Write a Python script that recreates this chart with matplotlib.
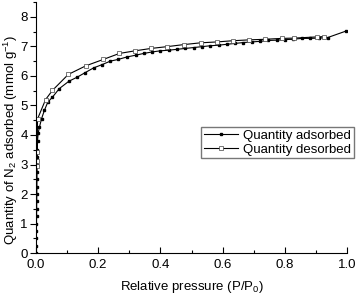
import numpy as np
import matplotlib
matplotlib.use("Agg")
import matplotlib.pyplot as plt
from matplotlib.ticker import MultipleLocator

plt.rcParams['font.family'] = ['Liberation Sans', 'DejaVu Sans']
plt.rcParams['mathtext.fontset'] = 'custom'
plt.rcParams['mathtext.rm'] = 'Liberation Sans'
plt.rcParams['mathtext.it'] = 'Liberation Sans'

# adsorption branch (P/P0, mmol/g)
ads_p = [0.0005, 0.001, 0.0012, 0.0015, 0.0017, 0.002, 0.0022, 0.0025, 0.0027, 0.003,
         0.0032, 0.0035, 0.0037, 0.004, 0.0045, 0.005, 0.007, 0.011, 0.018, 0.027, 0.038,
         0.053, 0.075, 0.106, 0.133, 0.158, 0.185, 0.212, 0.239, 0.265, 0.292, 0.32,
         0.346, 0.373, 0.40, 0.427, 0.453, 0.48, 0.507, 0.533, 0.56, 0.587, 0.613, 0.64,
         0.667, 0.693, 0.72, 0.747, 0.774, 0.80, 0.827, 0.854, 0.88, 0.91, 0.938, 0.997]
ads_q = [0.0, 0.25, 0.5, 0.75, 1.0, 1.25, 1.5, 1.75, 2.0, 2.25,
         2.5, 2.75, 3.0, 3.25, 3.5, 3.8, 4.05, 4.26, 4.55, 4.83, 5.11,
         5.28, 5.57, 5.82, 5.96, 6.11, 6.27, 6.38, 6.5, 6.56, 6.64, 6.70,
         6.76, 6.81, 6.85, 6.87, 6.90, 6.93, 6.96, 6.99, 7.02, 7.04, 7.07, 7.10,
         7.13, 7.15, 7.17, 7.20, 7.21, 7.23, 7.24, 7.27, 7.27, 7.28, 7.30, 7.52]

# desorption branch
des_p = [0.927, 0.903, 0.83, 0.79, 0.737, 0.685, 0.632, 0.581, 0.529, 0.475,
         0.421, 0.37, 0.319, 0.268, 0.217, 0.16, 0.104, 0.053, 0.031, 0.005,
         0.004, 0.004, 0.004]
des_q = [7.33, 7.32, 7.28, 7.27, 7.24, 7.22, 7.19, 7.15, 7.12, 7.06,
         6.99, 6.93, 6.85, 6.76, 6.56, 6.34, 6.05, 5.51, 5.2, 4.54,
         3.41, 3.13, 2.94]

fs = 9.5

fig = plt.figure(figsize=(3.56, 2.95), dpi=100)
ax = fig.add_axes([0.101, 0.142, 0.874, 0.851])

ax.plot(ads_p, ads_q, '-s', color='black', lw=0.8, ms=2.0, mfc='black', mec='black',
        label='Quantity adsorbed')
ax.plot(des_p, des_q, '-s', color='black', lw=0.8, ms=2.2, mfc='white', mec='#444444',
        mew=0.5, label='Quantity desorbed')

ax.set_xlim(0, 1.0)
ax.set_ylim(0, 8.5)
ax.xaxis.set_major_locator(MultipleLocator(0.2))
ax.xaxis.set_minor_locator(MultipleLocator(0.1))
ax.yaxis.set_major_locator(MultipleLocator(1))
ax.yaxis.set_minor_locator(MultipleLocator(0.5))
ax.xaxis.set_major_formatter(plt.FuncFormatter(lambda v, p: f"{v:.1f}"))

ax.spines['top'].set_visible(False)
ax.spines['right'].set_visible(False)
ax.spines['left'].set_linewidth(0.8)
ax.spines['bottom'].set_linewidth(0.8)
ax.tick_params(axis='x', which='major', direction='in', length=4, width=0.8, labelsize=fs, pad=4)
ax.tick_params(axis='x', which='minor', direction='in', length=2.5, width=0.8)
ax.tick_params(axis='y', which='major', direction='out', length=4, width=0.8, labelsize=fs, pad=2)
ax.tick_params(axis='y', which='minor', direction='out', length=2.5, width=0.8)

ax.set_xlabel("Relative pressure (P/P$_0$)", fontsize=fs, labelpad=6)
ax.set_ylabel("Quantity of N$_2$ adsorbed (mmol g$^{-1}$)", fontsize=fs)
ax.yaxis.set_label_coords(-0.052, 0.45)

ax.legend(loc='upper right', bbox_to_anchor=(0.994, 0.569), bbox_transform=fig.transFigure,
          borderaxespad=0, fancybox=False, edgecolor='#777777', framealpha=1,
          fontsize=fs, handlelength=2.6, handletextpad=0.4, borderpad=0.2,
          labelspacing=0.1)

fig.savefig("out.png", dpi=100)
